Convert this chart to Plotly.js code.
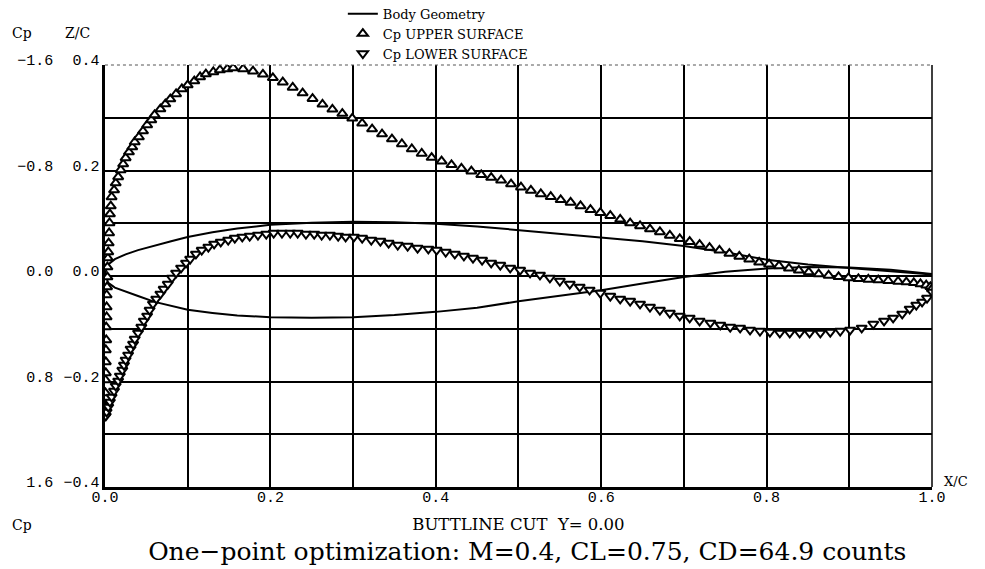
<!DOCTYPE html>
<html>
<head>
<meta charset="utf-8">
<script src="https://cdn.plot.ly/plotly-3.0.1.min.js"></script>
<style>html,body{margin:0;padding:0;background:#fff;}#chart{width:985px;height:569px;}</style>
</head>
<body>
<div id="chart"></div>
<script>
// Body geometry (Z/C vs X/C)
const bodyUpperX = [0, 0.004, 0.012, 0.025, 0.04, 0.06, 0.08, 0.1, 0.13, 0.16, 0.2, 0.25, 0.3, 0.35, 0.4, 0.45, 0.5, 0.55, 0.6, 0.65, 0.7, 0.75, 0.8, 0.85, 0.9, 0.95, 1.0];
const bodyUpperZ = [0.004, 0.022, 0.032, 0.041, 0.049, 0.058, 0.066, 0.074, 0.083, 0.090, 0.097, 0.101, 0.103, 0.102, 0.099, 0.094, 0.087, 0.081, 0.074, 0.066, 0.057, 0.045, 0.031, 0.022, 0.015, 0.009, 0.003];
const bodyLowerX = [0, 0.004, 0.012, 0.025, 0.04, 0.06, 0.08, 0.1, 0.13, 0.16, 0.2, 0.25, 0.3, 0.35, 0.4, 0.45, 0.5, 0.55, 0.6, 0.65, 0.7, 0.75, 0.8, 0.85, 0.9, 0.95, 1.0];
const bodyLowerZ = [0.004, -0.013, -0.022, -0.030, -0.038, -0.049, -0.057, -0.064, -0.070, -0.075, -0.078, -0.079, -0.078, -0.074, -0.068, -0.060, -0.048, -0.038, -0.027, -0.014, -0.002, 0.008, 0.014, 0.017, 0.016, 0.012, 0.004];

// Cp upper surface
const cpUpperX = [0.0, 0.0, 0.0005, 0.0005, 0.001, 0.001, 0.001, 0.0015, 0.0015, 0.002, 0.002, 0.002, 0.0025, 0.003, 0.003, 0.0035, 0.004, 0.0045, 0.005, 0.0055,
  0.006, 0.007, 0.008, 0.011, 0.013, 0.016, 0.019, 0.022, 0.025, 0.029, 0.033, 0.036, 0.041, 0.046, 0.051, 0.056, 0.060, 0.067, 0.073, 0.079, 0.086, 0.093, 0.100, 0.108, 0.115, 0.122, 0.131, 0.139, 0.148,
  0.155, 0.167, 0.179, 0.191, 0.203, 0.215, 0.227, 0.239, 0.251, 0.263, 0.275, 0.287, 0.299, 0.311, 0.323, 0.335, 0.347, 0.359, 0.371, 0.383, 0.395, 0.407, 0.419, 0.431, 0.443, 0.455, 0.467, 0.479, 0.491,
  0.503, 0.515, 0.527, 0.539, 0.551, 0.563, 0.575, 0.587, 0.599, 0.611, 0.623, 0.635, 0.647, 0.659, 0.671, 0.683, 0.695, 0.707, 0.719, 0.731, 0.743, 0.755, 0.767, 0.779, 0.791, 0.803, 0.815, 0.827,
  0.839, 0.851, 0.863, 0.875, 0.887, 0.899, 0.911, 0.923, 0.935, 0.947, 0.959, 0.969, 0.978, 0.986, 0.993, 0.998, 1.0];
const cpUpper = [1.039, 0.993, 0.887, 0.788, 0.735, 0.652, 0.561, 0.485, 0.387, 0.311, 0.235, 0.144, 0.083, 0.008, -0.068, -0.136, -0.182, -0.250, -0.326, -0.402,
  -0.470, -0.530, -0.599, -0.652, -0.705, -0.751, -0.804, -0.849, -0.895, -0.940, -0.978, -1.016, -1.054, -1.099, -1.145, -1.183, -1.221, -1.266, -1.304, -1.342, -1.380, -1.418, -1.448, -1.478, -1.509, -1.531, -1.547, -1.562, -1.570,
  -1.577, -1.570, -1.553, -1.529, -1.503, -1.470, -1.430, -1.387, -1.345, -1.302, -1.264, -1.232, -1.196, -1.158, -1.114, -1.076, -1.038, -1.001, -0.963, -0.929, -0.898, -0.871, -0.843, -0.816, -0.795, -0.767, -0.746, -0.726, -0.697,
  -0.673, -0.649, -0.622, -0.601, -0.578, -0.558, -0.531, -0.503, -0.480, -0.457, -0.430, -0.401, -0.380, -0.356, -0.334, -0.308, -0.282, -0.260, -0.238, -0.216, -0.195, -0.170, -0.148, -0.127, -0.104, -0.089, -0.076, -0.058,
  -0.043, -0.030, -0.015, -0.004, 0.006, 0.015, 0.021, 0.026, 0.031, 0.036, 0.041, 0.046, 0.052, 0.060, 0.070, 0.082, 0.098];

// Cp lower surface
const cpLowerX = [0.001, 0.002, 0.004, 0.006, 0.008, 0.011, 0.013, 0.016, 0.018, 0.021, 0.023, 0.025, 0.028, 0.031, 0.034, 0.036, 0.040, 0.044, 0.047, 0.051, 0.054, 0.058, 0.062, 0.067, 0.071, 0.076, 0.081, 0.086, 0.092, 0.098,
  0.103, 0.110, 0.117, 0.125, 0.132, 0.140, 0.149, 0.157, 0.166, 0.175, 0.185, 0.195, 0.204, 0.214, 0.224, 0.233, 0.243, 0.253, 0.262, 0.272, 0.282, 0.291, 0.301, 0.311, 0.322, 0.333, 0.343, 0.354, 0.366, 0.378,
  0.391, 0.401, 0.412, 0.423, 0.434, 0.445, 0.456, 0.467, 0.478, 0.490, 0.502, 0.514, 0.526, 0.538, 0.550, 0.562, 0.574, 0.586, 0.599, 0.611, 0.623, 0.635, 0.647, 0.659, 0.671, 0.683, 0.695, 0.707, 0.719, 0.732,
  0.744, 0.756, 0.768, 0.780, 0.792, 0.804, 0.816, 0.828, 0.840, 0.852, 0.865, 0.877, 0.889, 0.901, 0.915, 0.929, 0.942, 0.953, 0.964, 0.973, 0.981, 0.988, 0.994, 1.0];
const cpLower = [1.061, 1.031, 0.993, 0.955, 0.917, 0.872, 0.834, 0.796, 0.758, 0.713, 0.675, 0.637, 0.599, 0.553, 0.516, 0.478, 0.432, 0.387, 0.341, 0.303, 0.258, 0.212, 0.174, 0.136, 0.099, 0.061, 0.015, -0.023, -0.061, -0.099,
  -0.129, -0.167, -0.197, -0.220, -0.243, -0.258, -0.273, -0.288, -0.296, -0.303, -0.311, -0.318, -0.326, -0.326, -0.326, -0.326, -0.318, -0.318, -0.311, -0.311, -0.303, -0.296, -0.296, -0.288, -0.273, -0.265, -0.250, -0.235, -0.227, -0.212,
  -0.205, -0.197, -0.182, -0.167, -0.152, -0.136, -0.121, -0.099, -0.083, -0.061, -0.045, -0.023, -0.008, 0.015, 0.038, 0.061, 0.083, 0.106, 0.129, 0.152, 0.174, 0.190, 0.212, 0.235, 0.258, 0.281, 0.303, 0.318, 0.341, 0.356,
  0.371, 0.387, 0.394, 0.409, 0.417, 0.425, 0.432, 0.432, 0.432, 0.432, 0.432, 0.425, 0.417, 0.409, 0.394, 0.364, 0.341, 0.318, 0.288, 0.250, 0.220, 0.197, 0.167, 0.121];

// Tick labels
const xTickVals = [0, 0.1, 0.2, 0.3, 0.4, 0.5, 0.6, 0.7, 0.8, 0.9, 1.0];
const xTickText = ['0.0', '', '0.2', '', '0.4', '', '0.6', '', '0.8', '', '1.0'];
const zTickVals = [-0.4, -0.3, -0.2, -0.1, 0, 0.1, 0.2, 0.3, 0.4];
const zTickText = ['\u22120.4', '', '\u22120.2', '', '0.0', '', '0.2', '', '0.4'];
const cpTickVals = [-1.6, -0.8, 0, 0.8, 1.6];
const cpTickText = ['\u22121.6', '\u22120.8', '0.0', '0.8', '1.6'];

const wideSerif = 'DejaVu Serif, Liberation Serif, serif';
const mono = 'Liberation Mono, DejaVu Sans Mono, monospace';

const markerUp = {symbol: 'triangle-up', size: 9, color: '#fff', line: {color: '#000', width: 2}};
const markerDn = {symbol: 'triangle-down', size: 9, color: '#fff', line: {color: '#000', width: 2}};

const traces = [
  {x: bodyUpperX, y: bodyUpperZ, mode: 'lines', name: 'Body Geometry', legendgroup: 'body',
   line: {color: '#000', width: 2}, xaxis: 'x', yaxis: 'y'},
  {x: bodyLowerX, y: bodyLowerZ, mode: 'lines', name: 'Body Geometry', legendgroup: 'body', showlegend: false,
   line: {color: '#000', width: 2}, xaxis: 'x', yaxis: 'y'},
  {x: cpUpperX, y: cpUpper, mode: 'markers', name: 'Cp UPPER SURFACE', marker: markerUp, xaxis: 'x', yaxis: 'y2'},
  {x: cpLowerX, y: cpLower, mode: 'markers', name: 'Cp LOWER SURFACE', marker: markerDn, xaxis: 'x', yaxis: 'y2'}
];

const annFont = {family: wideSerif, size: 14, color: '#000'};

const layout = {
  width: 985, height: 569,
  margin: {l: 10, r: 53, t: 65, b: 82, autoexpand: false},
  paper_bgcolor: '#fff', plot_bgcolor: '#fff',
  showlegend: true,
  legend: {x: 0.361, y: 1.157, xanchor: 'left', yanchor: 'top', font: {family: wideSerif, size: 13, color: '#000'},
           bgcolor: 'rgba(0,0,0,0)', tracegroupgap: 0, itemwidth: 30},
  title: {text: 'One\u2212point optimization: M=0.4, CL=0.75, CD=64.9 counts', xref: 'paper', x: 0.561, xanchor: 'center',
          yref: 'container', y: 0.032, yanchor: 'middle', font: {family: wideSerif, size: 25, color: '#000'}},
  xaxis: {domain: [0.103, 1], range: [0, 1], tickvals: xTickVals, ticktext: xTickText, ticks: '',
          showgrid: true, gridcolor: '#000', gridwidth: 2, zeroline: false,
          showline: true, linecolor: '#000', linewidth: 2.5, ticklabelstandoff: -6,
          tickfont: {family: mono, size: 15, color: '#000'},
          title: {text: 'BUTTLINE CUT  Y= 0.00', font: {family: wideSerif, size: 16.5, color: '#000'}, standoff: 13}},
  yaxis: {range: [-0.4, 0.4], tickvals: zTickVals, ticktext: zTickText, ticks: '',
          showgrid: true, gridcolor: '#000', gridwidth: 2, zeroline: false,
          showline: true, linecolor: '#000', linewidth: 2.5, ticklabelshift: -5,
          tickfont: {family: mono, size: 15, color: '#000'}},
  yaxis2: {overlaying: 'y', anchor: 'free', position: 0.047, side: 'left', range: [1.6, -1.6],
           tickvals: cpTickVals, ticktext: cpTickText, ticks: '', showgrid: false, zeroline: false, showline: false,
           ticklabelshift: 5, tickfont: {family: mono, size: 15, color: '#000'}},
  shapes: [
    {type: 'line', xref: 'x domain', yref: 'y domain', x0: 0, x1: 1, y0: 1, y1: 1, line: {color: '#555', width: 1, dash: 'dot'}},
    {type: 'line', xref: 'x domain', yref: 'y domain', x0: 1, x1: 1, y0: 0, y1: 1, line: {color: '#000', width: 1.5}}
  ],
  annotations: [
    {text: 'Cp', xref: 'paper', yref: 'paper', x: 0.013, y: 1.076, xanchor: 'center', yanchor: 'middle', showarrow: false, font: annFont},
    {text: 'Z/C', xref: 'paper', yref: 'paper', x: 0.0727, y: 1.076, xanchor: 'center', yanchor: 'middle', showarrow: false, font: annFont},
    {text: 'X/C', xref: 'paper', yref: 'paper', x: 1.026, y: 0.012, xanchor: 'center', yanchor: 'middle', showarrow: false, font: {family: wideSerif, size: 13, color: '#000'}},
    {text: 'Cp', xref: 'paper', yref: 'paper', x: 0.013, y: -0.090, xanchor: 'center', yanchor: 'middle', showarrow: false, font: annFont}
  ]
};

Plotly.newPlot('chart', traces, layout, {displayModeBar: false, staticPlot: true});
</script>
</body>
</html>
